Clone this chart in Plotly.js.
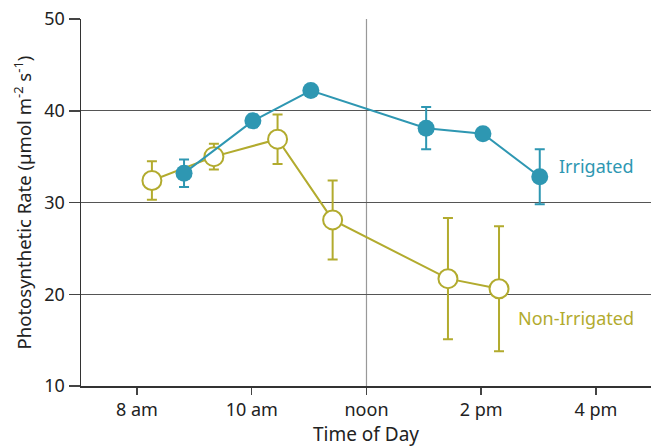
<!DOCTYPE html>
<html>
<head>
<meta charset="utf-8">
<script src="https://cdn.plot.ly/plotly-3.0.1.min.js"></script>
<style>html,body{margin:0;padding:0;background:#fff;}#chart{width:651px;height:447px;}</style>
</head>
<body>
<div id="chart"></div>
<script>
// Data (time in hours of day)
const irrigatedTime = [8.82, 10.02, 11.03, 13.04, 14.03, 15.02];
const irrigatedRate = [33.2, 38.9, 42.2, 38.1, 37.5, 32.8];
const irrigatedErr  = [1.5, 0.7, 0.6, 2.3, 0.5, 3.0];

const nonIrrigatedTime = [8.26, 9.34, 10.45, 11.41, 13.42, 14.31];
const nonIrrigatedRate = [32.4, 35.0, 36.9, 28.1, 21.7, 20.6];
const nonIrrigatedErr  = [2.1, 1.4, 2.7, 4.3, 6.6, 6.8];

const tickVals = [8, 10, 12, 14, 16];
const tickText = ['8 am', '10 am', 'noon', '2 pm', '4 pm'];

const teal = '#2e97b2';
const olive = '#b2ab2e';
const font = '"Noto Sans", "Open Sans", sans-serif';

const traces = [
  {
    x: nonIrrigatedTime, y: nonIrrigatedRate, type: 'scatter', mode: 'lines+markers',
    name: 'Non-Irrigated',
    line: {color: olive, width: 2},
    marker: {symbol: 'circle', size: 19, color: '#ffffff', line: {color: olive, width: 2}},
    error_y: {type: 'data', array: nonIrrigatedErr, visible: true, color: olive, thickness: 2, width: 5}
  },
  {
    x: irrigatedTime, y: irrigatedRate, type: 'scatter', mode: 'lines+markers',
    name: 'Irrigated',
    line: {color: teal, width: 2},
    marker: {symbol: 'circle', size: 17, color: teal},
    error_y: {type: 'data', array: irrigatedErr, visible: true, color: teal, thickness: 2, width: 5}
  }
];

const layout = {
  width: 651, height: 447,
  margin: {l: 81, r: 0, t: 19, b: 61},
  paper_bgcolor: '#fff', plot_bgcolor: '#fff',
  showlegend: false,
  font: {family: font, color: '#222', size: 16},
  xaxis: {
    range: [7.024, 16.959],
    tickvals: tickVals, ticktext: tickText,
    showgrid: false, zeroline: false,
    showline: true, linecolor: '#333', linewidth: 1.5,
    ticks: 'outside', ticklen: 7, tickcolor: '#444', tickwidth: 1.5,
    tickfont: {size: 18, family: font, color: '#222'},
    title: {text: 'Time of Day', font: {size: 19, family: font, color: '#222'}, standoff: 8}
  },
  yaxis: {
    range: [10, 50],
    tickvals: [10, 20, 30, 40, 50],
    showgrid: true, gridcolor: '#555', gridwidth: 1.3,
    zeroline: false,
    showline: true, linecolor: '#333', linewidth: 1.5,
    ticks: 'outside', ticklen: 11, tickcolor: '#444', tickwidth: 1.5,
    tickfont: {size: 18, family: font, color: '#222'},
    title: {text: 'Photosynthetic Rate (µmol m<sup>-2</sup> s<sup>-1</sup>)', font: {size: 18.5, family: font, color: '#222'}, standoff: 8}
  },
  shapes: [
    {type: 'line', xref: 'x', yref: 'paper', x0: 12, x1: 12, y0: 0, y1: 1, line: {color: '#999', width: 1.2}, layer: 'below'}
  ],
  annotations: [
    {x: 15.32, y: 33.98, xref: 'x', yref: 'y', text: 'Irrigated', showarrow: false, xanchor: 'left', yanchor: 'middle', font: {size: 18, color: teal, family: font}},
    {x: 14.61, y: 17.41, xref: 'x', yref: 'y', text: 'Non-Irrigated', showarrow: false, xanchor: 'left', yanchor: 'middle', font: {size: 18, color: olive, family: font}}
  ]
};

Plotly.newPlot('chart', traces, layout, {displayModeBar: false, staticPlot: true});
</script>
</body>
</html>
